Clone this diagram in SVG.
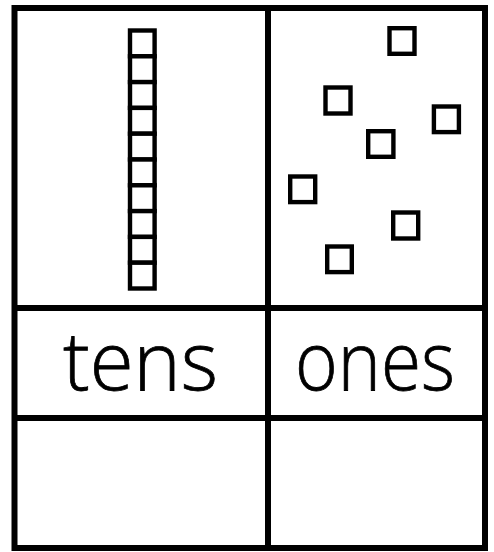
<svg xmlns="http://www.w3.org/2000/svg" width="494" height="552" viewBox="0 0 494 552">
<style>
.grid{fill:none;stroke:#000;stroke-width:6}
.cube{fill:#fff;stroke:#000;stroke-width:4.4}
.lbl{font-family:"Open Sans","Liberation Sans",sans-serif;font-size:82px;font-weight:300;fill:#000;stroke:#000;stroke-width:0.8;text-anchor:middle}
</style>
<rect width="494" height="552" fill="#fff"/>
<g id="grid" class="grid">
<rect x="14.5" y="8" width="470.5" height="540"/>
<line x1="268" y1="8" x2="268" y2="548"/>
<line x1="14.5" y1="308" x2="485" y2="308"/>
<line x1="14.5" y1="418" x2="485" y2="418"/>
</g>
<g id="tens-rod" class="cube">
<rect x="130" y="30.5" width="24.6" height="25.8"/>
<rect x="130" y="56.3" width="24.6" height="25.8"/>
<rect x="130" y="82.1" width="24.6" height="25.8"/>
<rect x="130" y="107.9" width="24.6" height="25.8"/>
<rect x="130" y="133.7" width="24.6" height="25.8"/>
<rect x="130" y="159.5" width="24.6" height="25.8"/>
<rect x="130" y="185.3" width="24.6" height="25.8"/>
<rect x="130" y="211.1" width="24.6" height="25.8"/>
<rect x="130" y="236.9" width="24.6" height="25.8"/>
<rect x="130" y="262.7" width="24.6" height="25.8"/>
</g>
<g id="ones-cubes" class="cube">
<rect x="389.5" y="28.2" width="25" height="25.6"/>
<rect x="325.5" y="87.5" width="25" height="26"/>
<rect x="433.9" y="106.5" width="25" height="25.6"/>
<rect x="368.2" y="131.2" width="25.2" height="25.6"/>
<rect x="290.2" y="176.5" width="25" height="25.6"/>
<rect x="393.2" y="212.5" width="25" height="26"/>
<rect x="327.2" y="246.5" width="24.6" height="25.6"/>
</g>
<g id="label-tens"><text class="lbl" x="140.5" y="390" textLength="155" lengthAdjust="spacingAndGlyphs">tens</text></g>
<g id="label-ones"><text class="lbl" x="375" y="390" textLength="160" lengthAdjust="spacingAndGlyphs">ones</text></g>
</svg>
